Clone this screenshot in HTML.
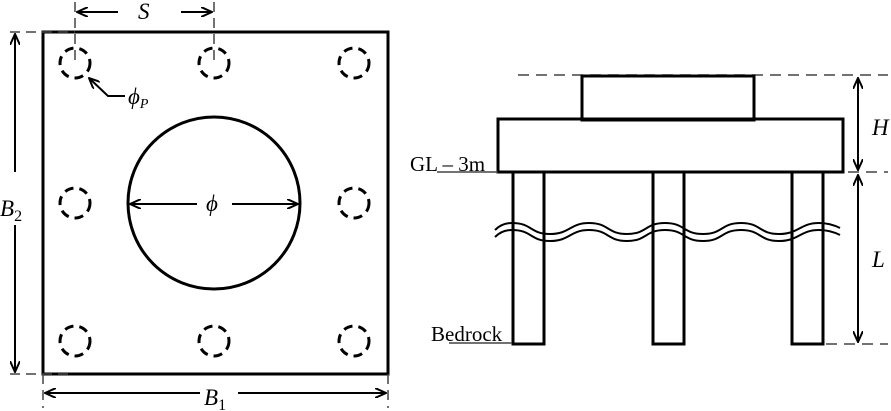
<!DOCTYPE html>
<html><head><meta charset="utf-8"><style>
html,body{margin:0;padding:0;background:#fff;}
svg{display:block;}
.it{font-family:"Liberation Serif",serif;font-style:italic;font-size:23px;}
.rm{font-family:"Liberation Serif",serif;font-size:21px;}
</style></head><body>
<svg width="891" height="411" viewBox="0 0 891 411" xmlns="http://www.w3.org/2000/svg">
<defs>
<marker id="a" markerWidth="12" markerHeight="10" refX="11" refY="5" orient="auto" markerUnits="userSpaceOnUse">
<path d="M0,0 L11,5 L0,10" fill="none" stroke="#000" stroke-width="2"/>
</marker>
</defs>
<g fill="none" stroke="#000">
<rect x="43" y="32" width="345" height="342" stroke-width="3"/>
<circle cx="214" cy="203" r="86" stroke-width="3"/>
<g stroke-width="3" stroke-dasharray="9,6">
<circle cx="75" cy="63" r="15"/><circle cx="214" cy="63" r="15"/><circle cx="354" cy="63" r="15"/>
<circle cx="75" cy="203" r="15"/><circle cx="354" cy="203" r="15"/>
<circle cx="75" cy="341" r="15"/><circle cx="214" cy="341" r="15"/><circle cx="354" cy="341" r="15"/>
</g>
<g stroke="#444" stroke-width="1.5" stroke-dasharray="10,6">
<line x1="75" y1="2" x2="75" y2="62"/><line x1="214" y1="2" x2="214" y2="62"/>
<line x1="10" y1="32" x2="75" y2="32"/><line x1="10" y1="374" x2="70" y2="374"/>
<line x1="43" y1="374" x2="43" y2="408"/><line x1="388" y1="374" x2="388" y2="408"/>
</g>
<g stroke-width="2">
<line x1="118" y1="12" x2="77" y2="12" marker-end="url(#a)"/>
<line x1="181" y1="12" x2="212" y2="12" marker-end="url(#a)"/>
<line x1="15" y1="172" x2="15" y2="34" marker-end="url(#a)"/>
<line x1="15" y1="225" x2="15" y2="372" marker-end="url(#a)"/>
<line x1="200" y1="393" x2="45" y2="393" marker-end="url(#a)"/>
<line x1="238" y1="393" x2="386" y2="393" marker-end="url(#a)"/>
<line x1="197" y1="204" x2="130" y2="204" marker-end="url(#a)"/>
<line x1="232" y1="204" x2="298" y2="204" marker-end="url(#a)"/>
<polyline points="125,96 108,96 89,78" marker-end="url(#a)"/>
</g>
<g stroke="#444" stroke-width="1.5" stroke-dasharray="11,7">
<line x1="518" y1="75" x2="888" y2="75"/>
<line x1="848" y1="172" x2="888" y2="172"/>
<line x1="826" y1="344" x2="888" y2="344"/>
</g>
<rect x="582" y="76" width="172" height="44" stroke-width="3"/>
<rect x="498" y="119" width="345" height="53" stroke-width="3"/>
<rect x="513" y="172" width="31" height="172" stroke-width="3"/>
<rect x="653" y="172" width="31" height="172" stroke-width="3"/>
<rect x="792" y="172" width="31" height="172" stroke-width="3"/>
<g stroke-width="2">
<path d="M495,230 Q502,223 512,223 C532,223 530,234 550,234 C570,234 570,223 589,223 C609,223 607,234 627,234 C647,234 645,223 665,223 C685,223 683,234 703,234 C723,234 721,223 741,223 C761,223 759,234 779,234 C799,234 800,223 819,223 Q830,223 840,228"/>
<path d="M495,237 Q502,230 512,230 C532,230 530,241 550,241 C570,241 570,230 589,230 C609,230 607,241 627,241 C647,241 645,230 665,230 C685,230 683,241 703,241 C723,241 721,230 741,230 C761,230 759,241 779,241 C799,241 800,230 819,230 Q830,230 840,235"/>
<line x1="858" y1="125" x2="858" y2="78" marker-end="url(#a)"/>
<line x1="858" y1="120" x2="858" y2="170" marker-end="url(#a)"/>
<line x1="858" y1="260" x2="858" y2="175" marker-end="url(#a)"/>
<line x1="858" y1="255" x2="858" y2="342" marker-end="url(#a)"/>
</g>
<line x1="437" y1="172" x2="498" y2="172" stroke="#444" stroke-width="1.5"/>
<line x1="449" y1="343" x2="512" y2="343" stroke="#444" stroke-width="1.5"/>
</g>
<text class="it" x="138" y="19">S</text>
<text class="it" x="128" y="104">ϕ<tspan font-size="14" dy="4">P</tspan></text>
<text class="it" x="206" y="211">ϕ</text>
<text class="it" x="0" y="216">B<tspan font-size="16" dy="5" font-style="normal">2</tspan></text>
<text class="it" x="204" y="405">B<tspan font-size="16" dy="5" font-style="normal">1</tspan></text>
<text class="it" x="872" y="135">H</text>
<text class="it" x="872" y="267">L</text>
<text class="rm" x="410" y="171">GL – 3m</text>
<text class="rm" x="431" y="341">Bedrock</text>
</svg>
</body></html>
